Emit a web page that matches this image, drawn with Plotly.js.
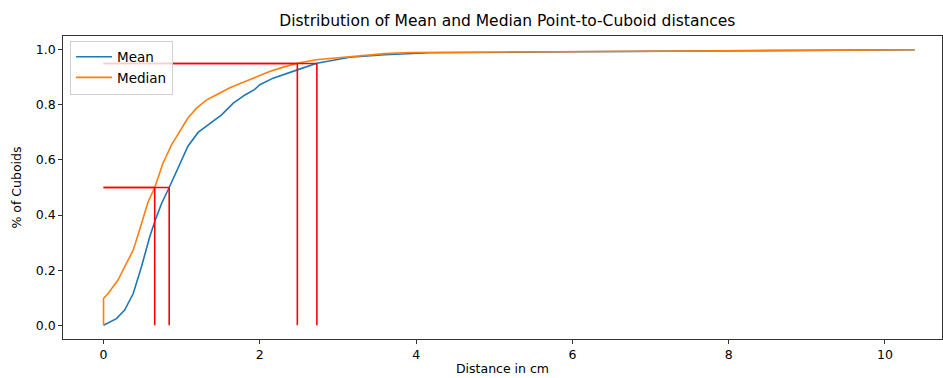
<!DOCTYPE html>
<html>
<head>
<meta charset="utf-8">
<script src="https://cdn.plot.ly/plotly-3.0.1.min.js"></script>
<style>html,body{margin:0;padding:0;background:#fff;}#chart{width:943px;height:378px;}</style>
</head>
<body>
<div id="chart"></div>
<script>
const meanX = [0, 0.08, 0.165, 0.27, 0.38, 0.485, 0.59, 0.66, 0.74, 0.84, 0.955, 1.08, 1.21, 1.34, 1.51, 1.66, 1.81, 1.93, 2.0, 2.17, 2.34, 2.48, 2.73, 2.9, 3.15, 3.6, 4.17, 6, 8, 10.38];
const meanY = [0, 0.012, 0.024, 0.055, 0.115, 0.212, 0.32, 0.38, 0.44, 0.50, 0.575, 0.65, 0.70, 0.727, 0.764, 0.806, 0.836, 0.855, 0.873, 0.897, 0.915, 0.927, 0.951, 0.959, 0.973, 0.982, 0.989, 0.993, 0.996, 1.0];
const medianX = [0, 0, 0.058, 0.185, 0.27, 0.38, 0.46, 0.57, 0.655, 0.76, 0.87, 0.975, 1.08, 1.19, 1.32, 1.44, 1.61, 1.78, 1.955, 2.125, 2.3, 2.48, 2.72, 2.9, 3.15, 3.6, 3.92, 6, 8, 10.38];
const medianY = [0, 0.097, 0.115, 0.164, 0.212, 0.273, 0.345, 0.448, 0.50, 0.588, 0.655, 0.703, 0.752, 0.788, 0.818, 0.836, 0.861, 0.881, 0.90, 0.921, 0.937, 0.951, 0.964, 0.968, 0.976, 0.986, 0.99, 0.994, 0.997, 1.0];
const levels = [0.5, 0.95];
const meanCross = [0.84, 2.73];
const medianCross = [0.655, 2.48];

const traces = [
  {x: meanX, y: meanY, mode: 'lines', name: 'Mean', line: {color: '#1f77b4', width: 1.6}},
  {x: medianX, y: medianY, mode: 'lines', name: 'Median', line: {color: '#ff7f0e', width: 1.6}}
];
function addMarker(xc, lvl) {
  traces.push({x: [0, xc], y: [lvl, lvl], mode: 'lines', showlegend: false, hoverinfo: 'skip', line: {color: 'red', width: 1.6}});
  traces.push({x: [xc, xc], y: [0, lvl], mode: 'lines', showlegend: false, hoverinfo: 'skip', line: {color: 'red', width: 1.6}});
}
levels.forEach((l, i) => { addMarker(meanCross[i], l); addMarker(medianCross[i], l); });

const axisCommon = {
  showgrid: false, zeroline: false, showline: true, mirror: true,
  linecolor: '#000', linewidth: 0.8, ticks: 'outside', ticklen: 4, tickwidth: 0.8, tickcolor: '#000',
  tickfont: {family: 'DejaVu Sans', size: 12.5, color: '#000'}
};
const layout = {
  width: 943, height: 378,
  margin: {l: 63, r: 1, t: 36, b: 39},
  paper_bgcolor: '#fff', plot_bgcolor: '#fff',
  font: {family: 'DejaVu Sans', color: '#000'},
  title: {text: 'Distribution of Mean and Median Point-to-Cuboid distances', font: {family: 'DejaVu Sans', size: 15.5, color: '#000'}, x: 0.538, xanchor: 'center', y: 0.945, yanchor: 'middle'},
  xaxis: Object.assign({}, axisCommon, {range: [-0.519, 10.73], tickvals: [0, 2, 4, 6, 8, 10], ticktext: ['0', '2', '4', '6', '8', '10'],
    title: {text: 'Distance in cm', font: {family: 'DejaVu Sans', size: 12.5, color: '#000'}, standoff: 3}}),
  yaxis: Object.assign({}, axisCommon, {range: [-0.05, 1.05], tickvals: [0, 0.2, 0.4, 0.6, 0.8, 1.0], ticktext: ['0.0', '0.2', '0.4', '0.6', '0.8', '1.0'],
    title: {text: '% of Cuboids', font: {family: 'DejaVu Sans', size: 12.5, color: '#000'}, standoff: 11}}),
  showlegend: true,
  legend: {x: 0.008, y: 0.985, xanchor: 'left', yanchor: 'top', bgcolor: 'rgba(255,255,255,0.8)', bordercolor: '#d0d0d0', borderwidth: 1,
    font: {family: 'DejaVu Sans', size: 13.5, color: '#000'}, tracegroupgap: 0, itemwidth: 36}
};
Plotly.newPlot('chart', traces, layout, {displayModeBar: false, staticPlot: true});
</script>
</body>
</html>
